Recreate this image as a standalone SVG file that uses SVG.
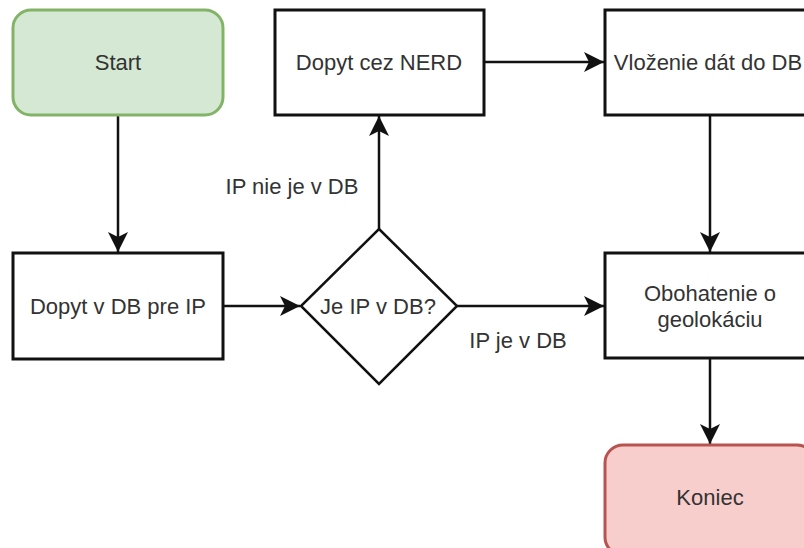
<svg xmlns="http://www.w3.org/2000/svg" width="804" height="548" viewBox="0 0 804 548">
  <style>
    .box { fill: #ffffff; stroke: #111111; stroke-width: 3; }
    .start { fill: #d5e8d4; stroke: #82b366; stroke-width: 3; }
    .end { fill: #f8cecc; stroke: #b85450; stroke-width: 3; }
    .dec { fill: #ffffff; stroke: #111111; stroke-width: 2.5; }
    .lbl { font-family: "Liberation Sans", Arial, Helvetica, sans-serif; font-size: 22px; fill: #333333; text-anchor: middle; }
    .edge { fill: none; stroke: #111111; stroke-width: 2.5; marker-end: url(#arrow); }
  </style>
  <defs>
    <marker id="arrow" markerUnits="userSpaceOnUse" markerWidth="22" markerHeight="22" refX="20" refY="10" orient="auto" viewBox="0 0 22 20">
      <path d="M0,0 L20,10 L0,20 L5,10 Z" fill="#111111"/>
    </marker>
  </defs>
  <rect width="804" height="548" fill="#ffffff"/>

  <!-- connectors -->
  <g id="edges">
    <path class="edge" d="M118,115 L118,252"/>
    <path class="edge" d="M223,306 L300,306"/>
    <path class="edge" d="M457,306 L604,306"/>
    <path class="edge" d="M379,229 L379,116"/>
    <path class="edge" d="M484,62 L604,62"/>
    <path class="edge" d="M710,115 L710,252"/>
    <path class="edge" d="M710,358 L710,444"/>
    <text class="lbl" x="292" y="194">IP nie je v DB</text>
    <text class="lbl" x="518" y="348">IP je v DB</text>
  </g>

  <g id="start">
    <rect class="start" x="13" y="10" width="210" height="105" rx="18" ry="18"/>
    <text class="lbl" x="118" y="70">Start</text>
  </g>

  <g id="query-db">
    <rect class="box" x="13" y="253" width="210" height="106"/>
    <text class="lbl" x="118" y="314">Dopyt v DB pre IP</text>
  </g>

  <g id="decision">
    <polygon class="dec" points="379,229 457,306 379,384 301,306"/>
    <text class="lbl" x="378" y="314">Je IP v DB?</text>
  </g>

  <g id="query-nerd">
    <rect class="box" x="275" y="10" width="209" height="105"/>
    <text class="lbl" x="379" y="70">Dopyt cez NERD</text>
  </g>

  <g id="insert-db">
    <rect class="box" x="605" y="10" width="210" height="105"/>
    <text class="lbl" x="708" y="70">Vloženie dát do DB</text>
  </g>

  <g id="enrich">
    <rect class="box" x="605" y="253" width="210" height="105"/>
    <text class="lbl" x="710" y="301">Obohatenie o</text>
    <text class="lbl" x="710" y="327">geolokáciu</text>
  </g>

  <g id="end">
    <rect class="end" x="605" y="445" width="210" height="110" rx="18" ry="18"/>
    <text class="lbl" x="710" y="505">Koniec</text>
  </g>
</svg>
